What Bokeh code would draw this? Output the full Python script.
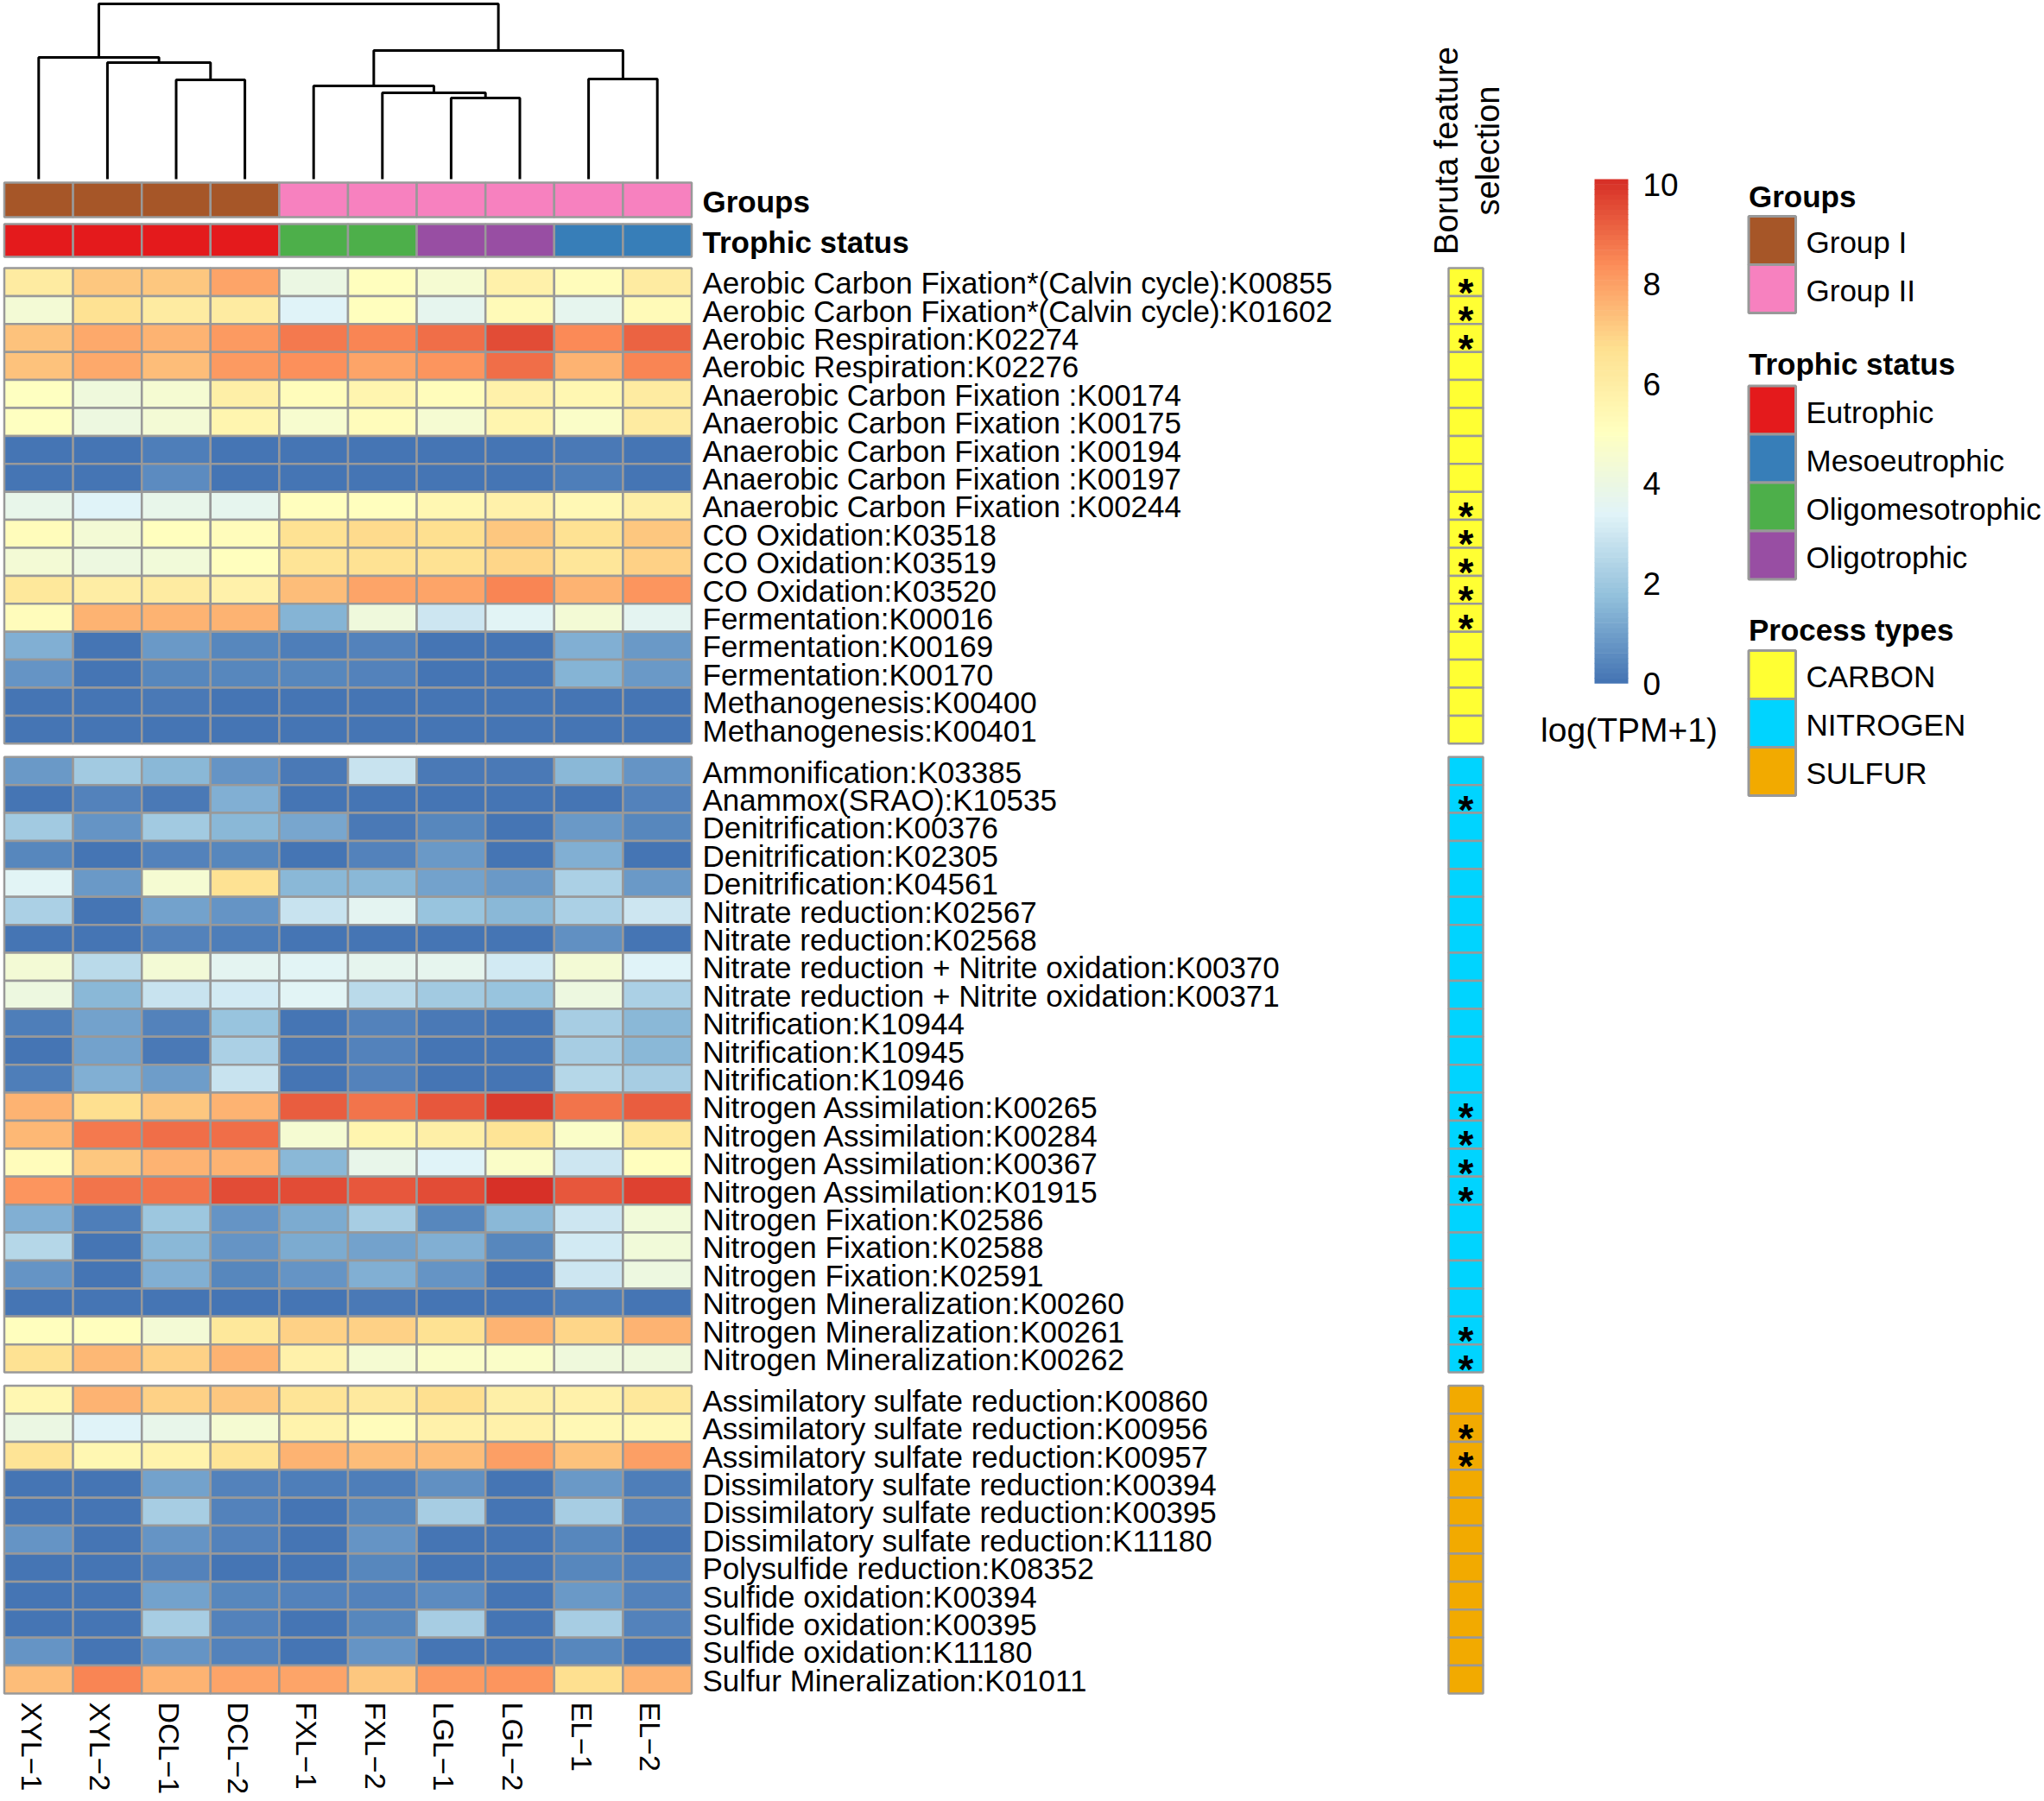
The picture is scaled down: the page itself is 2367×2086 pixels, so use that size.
import numpy as np
from bokeh.plotting import figure
from bokeh.models import Range1d, ColumnDataSource
from bokeh.transform import linear_cmap
from bokeh.core.properties import value
from bokeh.embed import file_html
from bokeh.resources import INLINE

# ---------------- data ----------------
samples = ["XYL\u22121", "XYL\u22122", "DCL\u22121", "DCL\u22122", "FXL\u22121",
           "FXL\u22122", "LGL\u22121", "LGL\u22122", "EL\u22121", "EL\u22122"]
groups = ["Group I"] * 4 + ["Group II"] * 6
trophic = ["Eutrophic"] * 4 + ["Oligomesotrophic"] * 2 + ["Oligotrophic"] * 2 + ["Mesoeutrophic"] * 2

group_colors = {"Group I": "#A65628", "Group II": "#F781BF"}
trophic_colors = {"Eutrophic": "#E41A1C", "Mesoeutrophic": "#377EB8",
                  "Oligomesotrophic": "#4DAF4A", "Oligotrophic": "#984EA3"}
process_colors = {"CARBON": "#FFFF33", "NITROGEN": "#00D4FF", "SULFUR": "#F2AA00"}

carbon_labels = [
    "Aerobic Carbon Fixation*(Calvin cycle):K00855",
    "Aerobic Carbon Fixation*(Calvin cycle):K01602",
    "Aerobic Respiration:K02274",
    "Aerobic Respiration:K02276",
    "Anaerobic Carbon Fixation :K00174",
    "Anaerobic Carbon Fixation :K00175",
    "Anaerobic Carbon Fixation :K00194",
    "Anaerobic Carbon Fixation :K00197",
    "Anaerobic Carbon Fixation :K00244",
    "CO Oxidation:K03518",
    "CO Oxidation:K03519",
    "CO Oxidation:K03520",
    "Fermentation:K00016",
    "Fermentation:K00169",
    "Fermentation:K00170",
    "Methanogenesis:K00400",
    "Methanogenesis:K00401",
]
carbon_values = [
    [6.1, 7.2, 7.2, 7.9, 4.0, 5.1, 4.5, 5.8, 5.2, 6.1],
    [4.4, 6.6, 6.1, 6.1, 3.4, 5.1, 3.7, 5.3, 3.7, 5.3],
    [7.3, 7.8, 7.6, 8.1, 8.7, 8.5, 8.9, 9.5, 8.4, 9.1],
    [7.3, 7.8, 7.4, 8.1, 8.3, 7.9, 8.2, 8.9, 7.6, 8.5],
    [5.0, 4.2, 4.5, 5.9, 5.2, 5.6, 5.2, 5.8, 5.5, 6.1],
    [5.0, 4.1, 4.4, 5.6, 4.6, 5.2, 4.5, 5.6, 4.8, 6.1],
    [0.05, 0.05, 0.3, 0.05, 0.05, 0.05, 0.05, 0.05, 0.15, 0.05],
    [0.05, 0.05, 0.55, 0.05, 0.05, 0.05, 0.05, 0.05, 0.25, 0.05],
    [3.8, 3.4, 3.8, 3.7, 5.1, 5.1, 5.5, 5.8, 5.4, 5.9],
    [5.2, 4.4, 5.1, 5.2, 6.6, 6.8, 6.7, 7.2, 6.6, 7.2],
    [4.4, 4.1, 4.3, 5.1, 6.5, 6.6, 6.6, 6.9, 6.4, 7.0],
    [6.3, 6.0, 6.1, 5.8, 7.4, 7.9, 7.9, 8.5, 7.6, 8.2],
    [5.2, 7.6, 7.6, 7.6, 1.5, 4.2, 3.0, 3.5, 4.4, 3.6],
    [1.35, 0.05, 0.85, 0.5, 0.25, 0.4, 0.05, 0.05, 1.35, 0.85],
    [0.75, 0.05, 0.45, 0.5, 0.45, 0.4, 0.05, 0.05, 1.5, 0.85],
    [0.05, 0.05, 0.15, 0.05, 0.05, 0.05, 0.05, 0.05, 0.05, 0.05],
    [0.05, 0.05, 0.05, 0.05, 0.05, 0.05, 0.05, 0.05, 0.05, 0.05],
]
carbon_boruta = [1, 1, 1, 0, 0, 0, 0, 0, 1, 1, 1, 1, 1, 0, 0, 0, 0]

nitrogen_labels = [
    "Ammonification:K03385",
    "Anammox(SRAO):K10535",
    "Denitrification:K00376",
    "Denitrification:K02305",
    "Denitrification:K04561",
    "Nitrate reduction:K02567",
    "Nitrate reduction:K02568",
    "Nitrate reduction + Nitrite oxidation:K00370",
    "Nitrate reduction + Nitrite oxidation:K00371",
    "Nitrification:K10944",
    "Nitrification:K10945",
    "Nitrification:K10946",
    "Nitrogen Assimilation:K00265",
    "Nitrogen Assimilation:K00284",
    "Nitrogen Assimilation:K00367",
    "Nitrogen Assimilation:K01915",
    "Nitrogen Fixation:K02586",
    "Nitrogen Fixation:K02588",
    "Nitrogen Fixation:K02591",
    "Nitrogen Mineralization:K00260",
    "Nitrogen Mineralization:K00261",
    "Nitrogen Mineralization:K00262",
]
nitrogen_values = [
    [0.85, 2.1, 1.55, 0.75, 0.2, 2.9, 0.2, 0.2, 1.6, 0.75],
    [0.05, 0.35, 0.2, 1.35, 0.05, 0.05, 0.05, 0.05, 0.05, 0.35],
    [2.05, 0.75, 2.05, 1.55, 1.2, 0.2, 0.5, 0.05, 0.85, 0.5],
    [0.45, 0.1, 0.4, 0.5, 0.05, 0.4, 0.85, 0.05, 1.35, 0.05],
    [3.45, 0.85, 4.5, 6.6, 1.55, 1.55, 1.1, 0.85, 2.3, 0.85],
    [2.25, 0.05, 1.1, 0.75, 2.9, 3.6, 1.85, 1.6, 2.3, 2.95],
    [0.05, 0.05, 0.35, 0.3, 0.05, 0.05, 0.05, 0.05, 0.7, 0.05],
    [4.4, 2.6, 4.4, 3.6, 3.45, 3.65, 3.7, 3.1, 4.4, 3.35],
    [4.1, 1.6, 2.9, 3.1, 3.45, 2.55, 2.05, 1.9, 4.1, 2.25],
    [0.3, 1.1, 0.35, 1.85, 0.05, 0.35, 0.2, 0.05, 2.15, 1.55],
    [0.1, 1.1, 0.2, 2.3, 0.05, 0.35, 0.05, 0.05, 2.15, 1.55],
    [0.3, 1.35, 1.0, 2.9, 0.05, 0.35, 0.05, 0.05, 2.5, 2.15],
    [7.6, 6.7, 7.2, 7.6, 9.2, 8.8, 9.3, 9.8, 8.8, 9.2],
    [7.5, 8.7, 8.9, 8.9, 4.5, 5.6, 5.9, 6.5, 4.75, 6.3],
    [5.2, 7.2, 7.6, 7.6, 1.6, 3.8, 3.4, 4.75, 3.0, 5.1],
    [8.2, 8.8, 8.8, 9.5, 9.5, 9.3, 9.5, 10.0, 9.3, 9.7],
    [1.35, 0.3, 1.95, 0.75, 1.25, 2.15, 0.5, 1.55, 2.95, 4.3],
    [2.5, 0.1, 1.55, 0.75, 1.25, 1.1, 1.35, 0.5, 3.1, 4.3],
    [0.8, 0.05, 1.4, 0.5, 0.75, 1.35, 0.8, 0.1, 2.95, 4.1],
    [0.05, 0.05, 0.05, 0.05, 0.05, 0.2, 0.05, 0.05, 0.3, 0.1],
    [5.05, 5.05, 4.4, 6.3, 7.0, 7.0, 6.6, 7.6, 6.9, 7.6],
    [6.6, 7.5, 7.0, 7.6, 5.8, 4.5, 4.8, 4.8, 4.2, 4.2],
]
nitrogen_boruta = [0, 1, 0, 0, 0, 0, 0, 0, 0, 0, 0, 0, 1, 1, 1, 1, 0, 0, 0, 0, 1, 1]

sulfur_labels = [
    "Assimilatory sulfate reduction:K00860",
    "Assimilatory sulfate reduction:K00956",
    "Assimilatory sulfate reduction:K00957",
    "Dissimilatory sulfate reduction:K00394",
    "Dissimilatory sulfate reduction:K00395",
    "Dissimilatory sulfate reduction:K11180",
    "Polysulfide reduction:K08352",
    "Sulfide oxidation:K00394",
    "Sulfide oxidation:K00395",
    "Sulfide oxidation:K11180",
    "Sulfur Mineralization:K01011",
]
sulfur_values = [
    [5.5, 7.6, 7.0, 7.2, 6.5, 6.2, 6.7, 5.9, 5.8, 6.3],
    [4.0, 3.35, 3.8, 4.5, 5.7, 5.2, 5.8, 5.8, 5.4, 5.4],
    [6.5, 5.5, 5.7, 6.5, 7.6, 7.4, 7.4, 8.0, 7.3, 8.0],
    [0.05, 0.05, 1.1, 0.35, 0.3, 0.3, 0.7, 0.05, 0.85, 0.3],
    [0.05, 0.05, 2.15, 0.35, 0.05, 0.45, 2.15, 0.05, 2.15, 0.35],
    [0.75, 0.05, 0.75, 0.35, 0.05, 0.8, 0.05, 0.05, 0.5, 0.05],
    [0.05, 0.05, 0.35, 0.05, 0.05, 0.45, 0.05, 0.05, 0.45, 0.3],
    [0.05, 0.05, 1.1, 0.5, 0.35, 0.35, 0.6, 0.05, 0.85, 0.35],
    [0.05, 0.05, 2.15, 0.35, 0.05, 0.45, 2.15, 0.05, 2.15, 0.35],
    [0.75, 0.05, 0.75, 0.35, 0.05, 0.8, 0.05, 0.05, 0.5, 0.05],
    [7.4, 8.5, 7.6, 7.9, 7.9, 7.2, 8.1, 8.2, 6.7, 7.6],
]
sulfur_boruta = [0, 1, 1, 0, 0, 0, 0, 0, 0, 0, 0]

# column dendrogram: (left child, right child, height); leaves 0..9, clusters 10..
dendro_merges = [
    (2, 3, 5.75),    # 10
    (1, 10, 6.75),   # 11
    (0, 11, 7.05),   # 12
    (6, 7, 4.70),    # 13
    (5, 13, 5.00),   # 14
    (4, 14, 5.40),   # 15
    (8, 9, 5.80),    # 16
    (15, 16, 7.45),  # 17
    (12, 17, 10.15), # 18
]

cb_ticks = [0, 2, 4, 6, 8, 10]

# ---------------- layout (reference pixel space) ----------------
W, H = 2367, 2086
FONT = value("Liberation Sans")
X0, CW = 4.5, 79.6
RH, TOP, GAP = 32.4, 310.0, 15.5
LEAF_Y, DEND_SCALE = 207.0, 20.0
BX0, BX1 = 1677.0, 1717.0
CB_X0, CB_X1, CB_BOTTOM, CB_SCALE = 1846.0, 1885.0, 791.0, 57.8
LG_X0, LG_X1, LG_H = 2024.5, 2079.0, 56.0
GRID = "#999999"
STAR_FS = 46

palette_stops = ["#4575B4", "#91BFDB", "#E0F3F8", "#FFFFBF", "#FEE090", "#FC8D59", "#D73027"]


def interp_palette(stops, n):
    rgb = np.array([[int(s[i:i + 2], 16) for i in (1, 3, 5)] for s in stops], float)
    pos = np.linspace(0, 1, len(stops))
    out = []
    for t in np.linspace(0, 1, n):
        c = [int(round(np.interp(t, pos, rgb[:, k]))) for k in range(3)]
        out.append("#%02x%02x%02x" % tuple(c))
    return out


palette = interp_palette(palette_stops, 100)
cmap = linear_cmap("v", palette, 0, 10.1)

p = figure(width=W, height=H, x_range=Range1d(0, W), y_range=Range1d(H, 0),
           output_backend="svg", toolbar_location=None, min_border=0)
p.axis.visible = False
p.grid.visible = False
p.outline_line_color = None
p.background_fill_color = "white"
p.border_fill_color = "white"

col_x = [X0 + (j + 0.5) * CW for j in range(len(samples))]

# heatmap blocks
blocks = [(carbon_labels, carbon_values, carbon_boruta, "CARBON"),
          (nitrogen_labels, nitrogen_values, nitrogen_boruta, "NITROGEN"),
          (sulfur_labels, sulfur_values, sulfur_boruta, "SULFUR")]

hx, hy, hv = [], [], []
lab_x, lab_y, lab_t = [], [], []
bor_y, bor_c = [], []
star_y = []
top = TOP
for labels, vals, bor, ptype in blocks:
    for i, (lab, row) in enumerate(zip(labels, vals)):
        yc = top + (i + 0.5) * RH
        for j, v in enumerate(row):
            hx.append(col_x[j]); hy.append(yc); hv.append(v)
        lab_x.append(813)
        lab_y.append(yc + 1)
        lab_t.append(lab)
        bor_y.append(yc); bor_c.append(process_colors[ptype])
        if bor[i]:
            star_y.append(yc)
    top += len(labels) * RH + GAP

p.rect(x="x", y="y", width=CW, height=RH, fill_color=cmap, line_color=GRID, line_width=2.5,
       source=ColumnDataSource(dict(x=hx, y=hy, v=hv)))
p.text(x="x", y="y", text="t", source=ColumnDataSource(dict(x=lab_x, y=lab_y, t=lab_t)),
       text_font=FONT, text_font_size="35px", text_baseline="middle", text_align="left",
       text_color="black")

# Boruta column
p.rect(x=(BX0 + BX1) / 2, y="y", width=BX1 - BX0, height=RH, fill_color="c", line_color=GRID,
       line_width=2.5, source=ColumnDataSource(dict(y=bor_y, c=bor_c)))
p.text(x=(BX0 + BX1) / 2, y="y", text="t",
       source=ColumnDataSource(dict(y=[y + 0.22 * STAR_FS + 2 for y in star_y],
                                    t=["*"] * len(star_y))),
       text_font=FONT, text_font_size="%dpx" % STAR_FS, text_font_style="bold",
       text_align="center", text_baseline="middle", text_color="black")
p.text(x=[1674, 1722], y=[174, 174], text=["Boruta feature", "selection"], angle=np.pi / 2,
       text_font=FONT, text_font_size="38px", text_align="center", text_baseline="middle",
       text_color="black")

# column annotations
p.rect(x=col_x, y=231, width=CW, height=40, fill_color=[group_colors[g] for g in groups],
       line_color=GRID, line_width=2.5)
p.rect(x=col_x, y=278, width=CW, height=38, fill_color=[trophic_colors[t] for t in trophic],
       line_color=GRID, line_width=2.5)
p.text(x=[813, 813], y=[233, 280], text=["Groups", "Trophic status"], text_font=FONT,
       text_font_size="35px", text_font_style="bold", text_baseline="middle", text_align="left",
       text_color="black")

# column labels
p.text(x=[x - 8 for x in col_x], y=1971, text=samples, angle=-np.pi / 2, text_font=FONT,
       text_font_size="34px", text_align="left", text_baseline="middle", text_color="black")

# dendrogram
node_x = {j: col_x[j] for j in range(len(samples))}
node_h = {j: 0.0 for j in range(len(samples))}
xs, ys = [], []
for k, (a, b, h) in enumerate(dendro_merges):
    nid = len(samples) + k
    ya, yb, ym = (LEAF_Y - node_h[a] * DEND_SCALE, LEAF_Y - node_h[b] * DEND_SCALE,
                  LEAF_Y - h * DEND_SCALE)
    xs.append([node_x[a], node_x[a], node_x[b], node_x[b]])
    ys.append([ya, ym, ym, yb])
    node_x[nid] = (node_x[a] + node_x[b]) / 2
    node_h[nid] = h
p.multi_line(xs=xs, ys=ys, line_color="black", line_width=3)

# color bar
n_cb = 100
cb_v = [(k + 0.5) * 10.1 / n_cb for k in range(n_cb)]
cb_src = ColumnDataSource(dict(v=cb_v, y=[CB_BOTTOM - v * CB_SCALE for v in cb_v]))
p.rect(x=(CB_X0 + CB_X1) / 2, y="y", width=CB_X1 - CB_X0,
       height=10.1 / n_cb * CB_SCALE + 0.6, fill_color=cmap, line_color=None, source=cb_src)
p.text(x=1902, y=[CB_BOTTOM - t * CB_SCALE for t in cb_ticks], text=[str(t) for t in cb_ticks],
       text_font=FONT, text_font_size="37px", text_align="left", text_baseline="middle",
       text_color="black")
p.text(x=[1886], y=[845], text=["log(TPM+1)"], text_font=FONT,
       text_font_size="39px", text_align="center", text_baseline="middle", text_color="black")

# legends
legend_sets = [("Groups", 227, 250, list(group_colors.items())),
               ("Trophic status", 421, 446.5, list(trophic_colors.items())),
               ("Process types", 729, 753, list(process_colors.items()))]
for title, ty, by, items in legend_sets:
    p.text(x=[LG_X0], y=[ty], text=[title], text_font=FONT, text_font_size="35px",
           text_font_style="bold", text_baseline="middle", text_align="left", text_color="black")
    yy = [by + (i + 0.5) * LG_H for i in range(len(items))]
    p.rect(x=(LG_X0 + LG_X1) / 2, y=yy, width=LG_X1 - LG_X0, height=LG_H,
           fill_color=[c for _, c in items], line_color=GRID, line_width=3)
    p.text(x=LG_X1 + 12, y=[y + 2 for y in yy], text=[n for n, _ in items], text_font=FONT,
           text_font_size="35px", text_baseline="middle", text_align="left", text_color="black")

open("out.html", "w").write(file_html(p, INLINE))
